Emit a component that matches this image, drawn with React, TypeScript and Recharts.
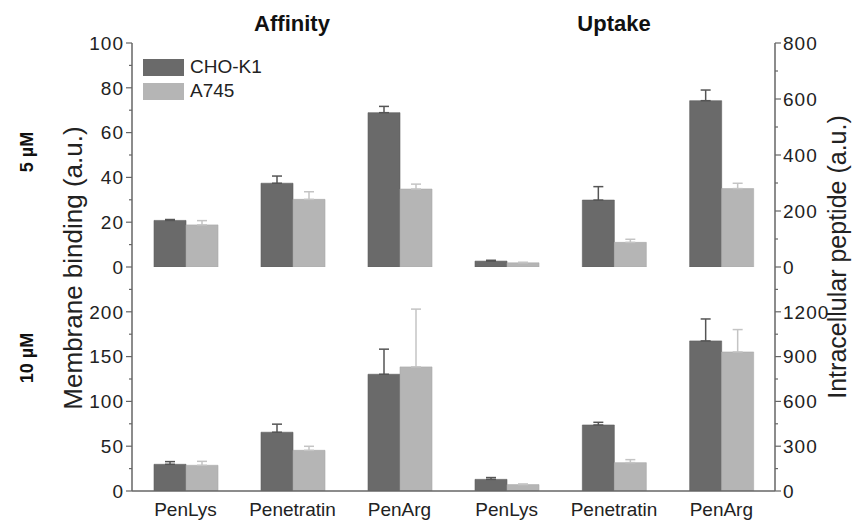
import React from 'react';
import { BarChart, Bar, XAxis, YAxis, ErrorBar, Legend } from 'recharts';

// categories + series values
const categories = ['PenLys', 'Penetratin', 'PenArg'];
const seriesNames = ['CHO-K1', 'A745'];

const aff5Cho = [20.8, 37.4, 68.9];
const aff5ChoErr = [0.4, 3.2, 2.8];
const aff5A745 = [18.8, 30.2, 34.8];
const aff5A745Err = [1.9, 3.4, 2.2];

const upt5Cho = [21, 239, 594];
const upt5ChoErr = [3, 48, 38];
const upt5A745 = [15, 88, 280];
const upt5A745Err = [2, 11, 19];

const aff10Cho = [29.8, 65.6, 130.3];
const aff10ChoErr = [3, 9, 28];
const aff10A745 = [28.7, 45.4, 138.5];
const aff10A745Err = [4.4, 4.5, 64.5];

const upt10Cho = [78, 442, 1005];
const upt10ChoErr = [12, 18, 147];
const upt10A745 = [43, 190, 931];
const upt10A745Err = [4, 20, 150];

// y ticks (all = minor+major, labels = the numbered ones)
const aff5Ticks = [0, 10, 20, 30, 40, 50, 60, 70, 80, 90, 100];
const aff5Labels = [0, 20, 40, 60, 80, 100];
const upt5Ticks = [0, 100, 200, 300, 400, 500, 600, 700, 800];
const upt5Labels = [0, 200, 400, 600, 800];
const aff10Ticks = [0, 25, 50, 75, 100, 125, 150, 175, 200, 225];
const aff10Labels = [0, 50, 100, 150, 200];
const upt10Ticks = [0, 150, 300, 450, 600, 750, 900, 1050, 1200, 1350];
const upt10Labels = [0, 300, 600, 900, 1200];

const DARK = '#6a6a6a';
const LIGHT = '#b5b5b5';
const FRAME = '#666';
const FONT = '"Liberation Sans", Arial, sans-serif';

const makeRows = (cho: number[], choErr: number[], a745: number[], a745Err: number[]) =>
  categories.map((name, i) => ({
    name,
    cho: cho[i],
    choErr: [0, choErr[i]],
    a745: a745[i],
    a745Err: [0, a745Err[i]],
  }));

const YTick = (props: any) => {
  const { x, y, payload, side, labels } = props;
  const major = labels.includes(payload.value);
  const len = major ? 6 : 3;
  const dir = side === 'left' ? -1 : 1;
  return (
    <g>
      <line x1={x} y1={y} x2={x + dir * len} y2={y} stroke={FRAME} strokeWidth={1.2} />
      {major && (
        <text
          x={x + dir * (len + 2)}
          y={y}
          dy="0.36em"
          textAnchor={side === 'left' ? 'end' : 'start'}
          fontSize={19}
          fontFamily={FONT}
          fill="#222"
          letterSpacing={1}
        >
          {payload.value}
        </text>
      )}
    </g>
  );
};

const renderLegend = (props: any) => {
  const colorOf = (n: string) => (props.payload.find((p: any) => p.value === n) || {}).color;
  return (
    <div style={{ fontFamily: FONT, fontSize: 19, color: '#222' }}>
      {seriesNames.map((n) => (
        <div key={n} style={{ display: 'flex', alignItems: 'center', height: 24 }}>
          <div style={{ width: 41, height: 17, background: colorOf(n), marginRight: 6 }} />
          <span>{n}</span>
        </div>
      ))}
    </div>
  );
};

type PanelProps = {
  rows: any[];
  domain: [number, number];
  ticks: number[];
  labels: number[];
  side: 'left' | 'right';
  bottom: boolean;
  legend?: boolean;
};

function Panel({ rows, domain, ticks, labels, side, bottom, legend }: PanelProps) {
  const height = bottom ? 263 : 285;
  const margin = {
    top: bottom ? 7 : 43,
    bottom: bottom ? 0 : 18,
    left: side === 'left' ? 72 : 7,
    right: side === 'left' ? 7 : 11,
  };
  return (
    <BarChart width={side === 'left' ? 460 : 400} height={height} data={rows} margin={margin}
      barSize={32} barGap={0}>
      <XAxis
        dataKey="name"
        height={bottom ? 32 : 0}
        tick={bottom ? { fontSize: 19, fill: '#222', fontFamily: FONT } : false}
        tickLine={false}
        tickMargin={6}
        axisLine={bottom ? { stroke: FRAME, strokeWidth: 1.5 } : { stroke: '#111', strokeWidth: 2 }}
      />
      <XAxis
        xAxisId="top"
        orientation="top"
        dataKey="name"
        height={0}
        tick={false}
        tickLine={false}
        axisLine={bottom ? { stroke: '#111', strokeWidth: 2 } : { stroke: FRAME, strokeWidth: 1.5 }}
      />
      <YAxis
        orientation={side}
        domain={domain}
        ticks={ticks}
        interval={0}
        allowDataOverflow
        width={60}
        tickSize={0}
        tickMargin={0}
        tickLine={false}
        tick={<YTick side={side} labels={labels} />}
        axisLine={{ stroke: FRAME, strokeWidth: 1.5 }}
      />
      <YAxis
        yAxisId="frame"
        orientation={side === 'left' ? 'right' : 'left'}
        width={0}
        tick={false}
        tickLine={false}
        axisLine={{ stroke: FRAME, strokeWidth: 1.5 }}
      />
      {legend && (
        <Legend
          layout="vertical"
          align="center"
          verticalAlign="middle"
          wrapperStyle={{ top: 55, left: 143, width: 160 }}
          content={renderLegend}
        />
      )}
      <Bar dataKey="cho" name="CHO-K1" fill={DARK} stroke="#5e5e5e" strokeWidth={0.6} isAnimationActive={false}>
        <ErrorBar dataKey="choErr" width={5} stroke="#555" strokeWidth={1.5} />
      </Bar>
      <Bar dataKey="a745" name="A745" fill={LIGHT} stroke="#aaa" strokeWidth={0.6} isAnimationActive={false}>
        <ErrorBar dataKey="a745Err" width={5} stroke="#c4c4c4" strokeWidth={1.5} />
      </Bar>
    </BarChart>
  );
}

export default function App() {
  return (
    <div style={{ position: 'relative', width: 854, height: 523, background: '#fff', fontFamily: FONT }}>
      <style>{'body{margin:0}'}</style>
      <div style={{ position: 'absolute', left: 0, top: 0 }}>
        <Panel rows={makeRows(aff5Cho, aff5ChoErr, aff5A745, aff5A745Err)} domain={[0, 100]}
          ticks={aff5Ticks} labels={aff5Labels} side="left" bottom={false} legend />
      </div>
      <div style={{ position: 'absolute', left: 446, top: 0 }}>
        <Panel rows={makeRows(upt5Cho, upt5ChoErr, upt5A745, upt5A745Err)} domain={[0, 800]}
          ticks={upt5Ticks} labels={upt5Labels} side="right" bottom={false} />
      </div>
      <div style={{ position: 'absolute', left: 0, top: 260 }}>
        <Panel rows={makeRows(aff10Cho, aff10ChoErr, aff10A745, aff10A745Err)} domain={[0, 250]}
          ticks={aff10Ticks} labels={aff10Labels} side="left" bottom />
      </div>
      <div style={{ position: 'absolute', left: 446, top: 260 }}>
        <Panel rows={makeRows(upt10Cho, upt10ChoErr, upt10A745, upt10A745Err)} domain={[0, 1500]}
          ticks={upt10Ticks} labels={upt10Labels} side="right" bottom />
      </div>
      <svg width={854} height={523} style={{ position: 'absolute', left: 0, top: 0, pointerEvents: 'none' }}>
        <g fontFamily={FONT} fill="#111">
          <text x={292} y={31} textAnchor="middle" fontSize={22} fontWeight="bold">Affinity</text>
          <text x={614} y={31} textAnchor="middle" fontSize={22} fontWeight="bold">Uptake</text>
          <text transform="translate(33,152) rotate(-90)" textAnchor="middle" fontSize={18} fontWeight="bold">5 µM</text>
          <text transform="translate(33,358) rotate(-90)" textAnchor="middle" fontSize={18} fontWeight="bold">10 µM</text>
          <text transform="translate(82,268) rotate(-90)" textAnchor="middle" fontSize={26} fill="#222">Membrane binding (a.u.)</text>
          <text transform="translate(846,257) rotate(-90)" textAnchor="middle" fontSize={25} fill="#222">Intracellular peptide (a.u.)</text>
        </g>
      </svg>
    </div>
  );
}
